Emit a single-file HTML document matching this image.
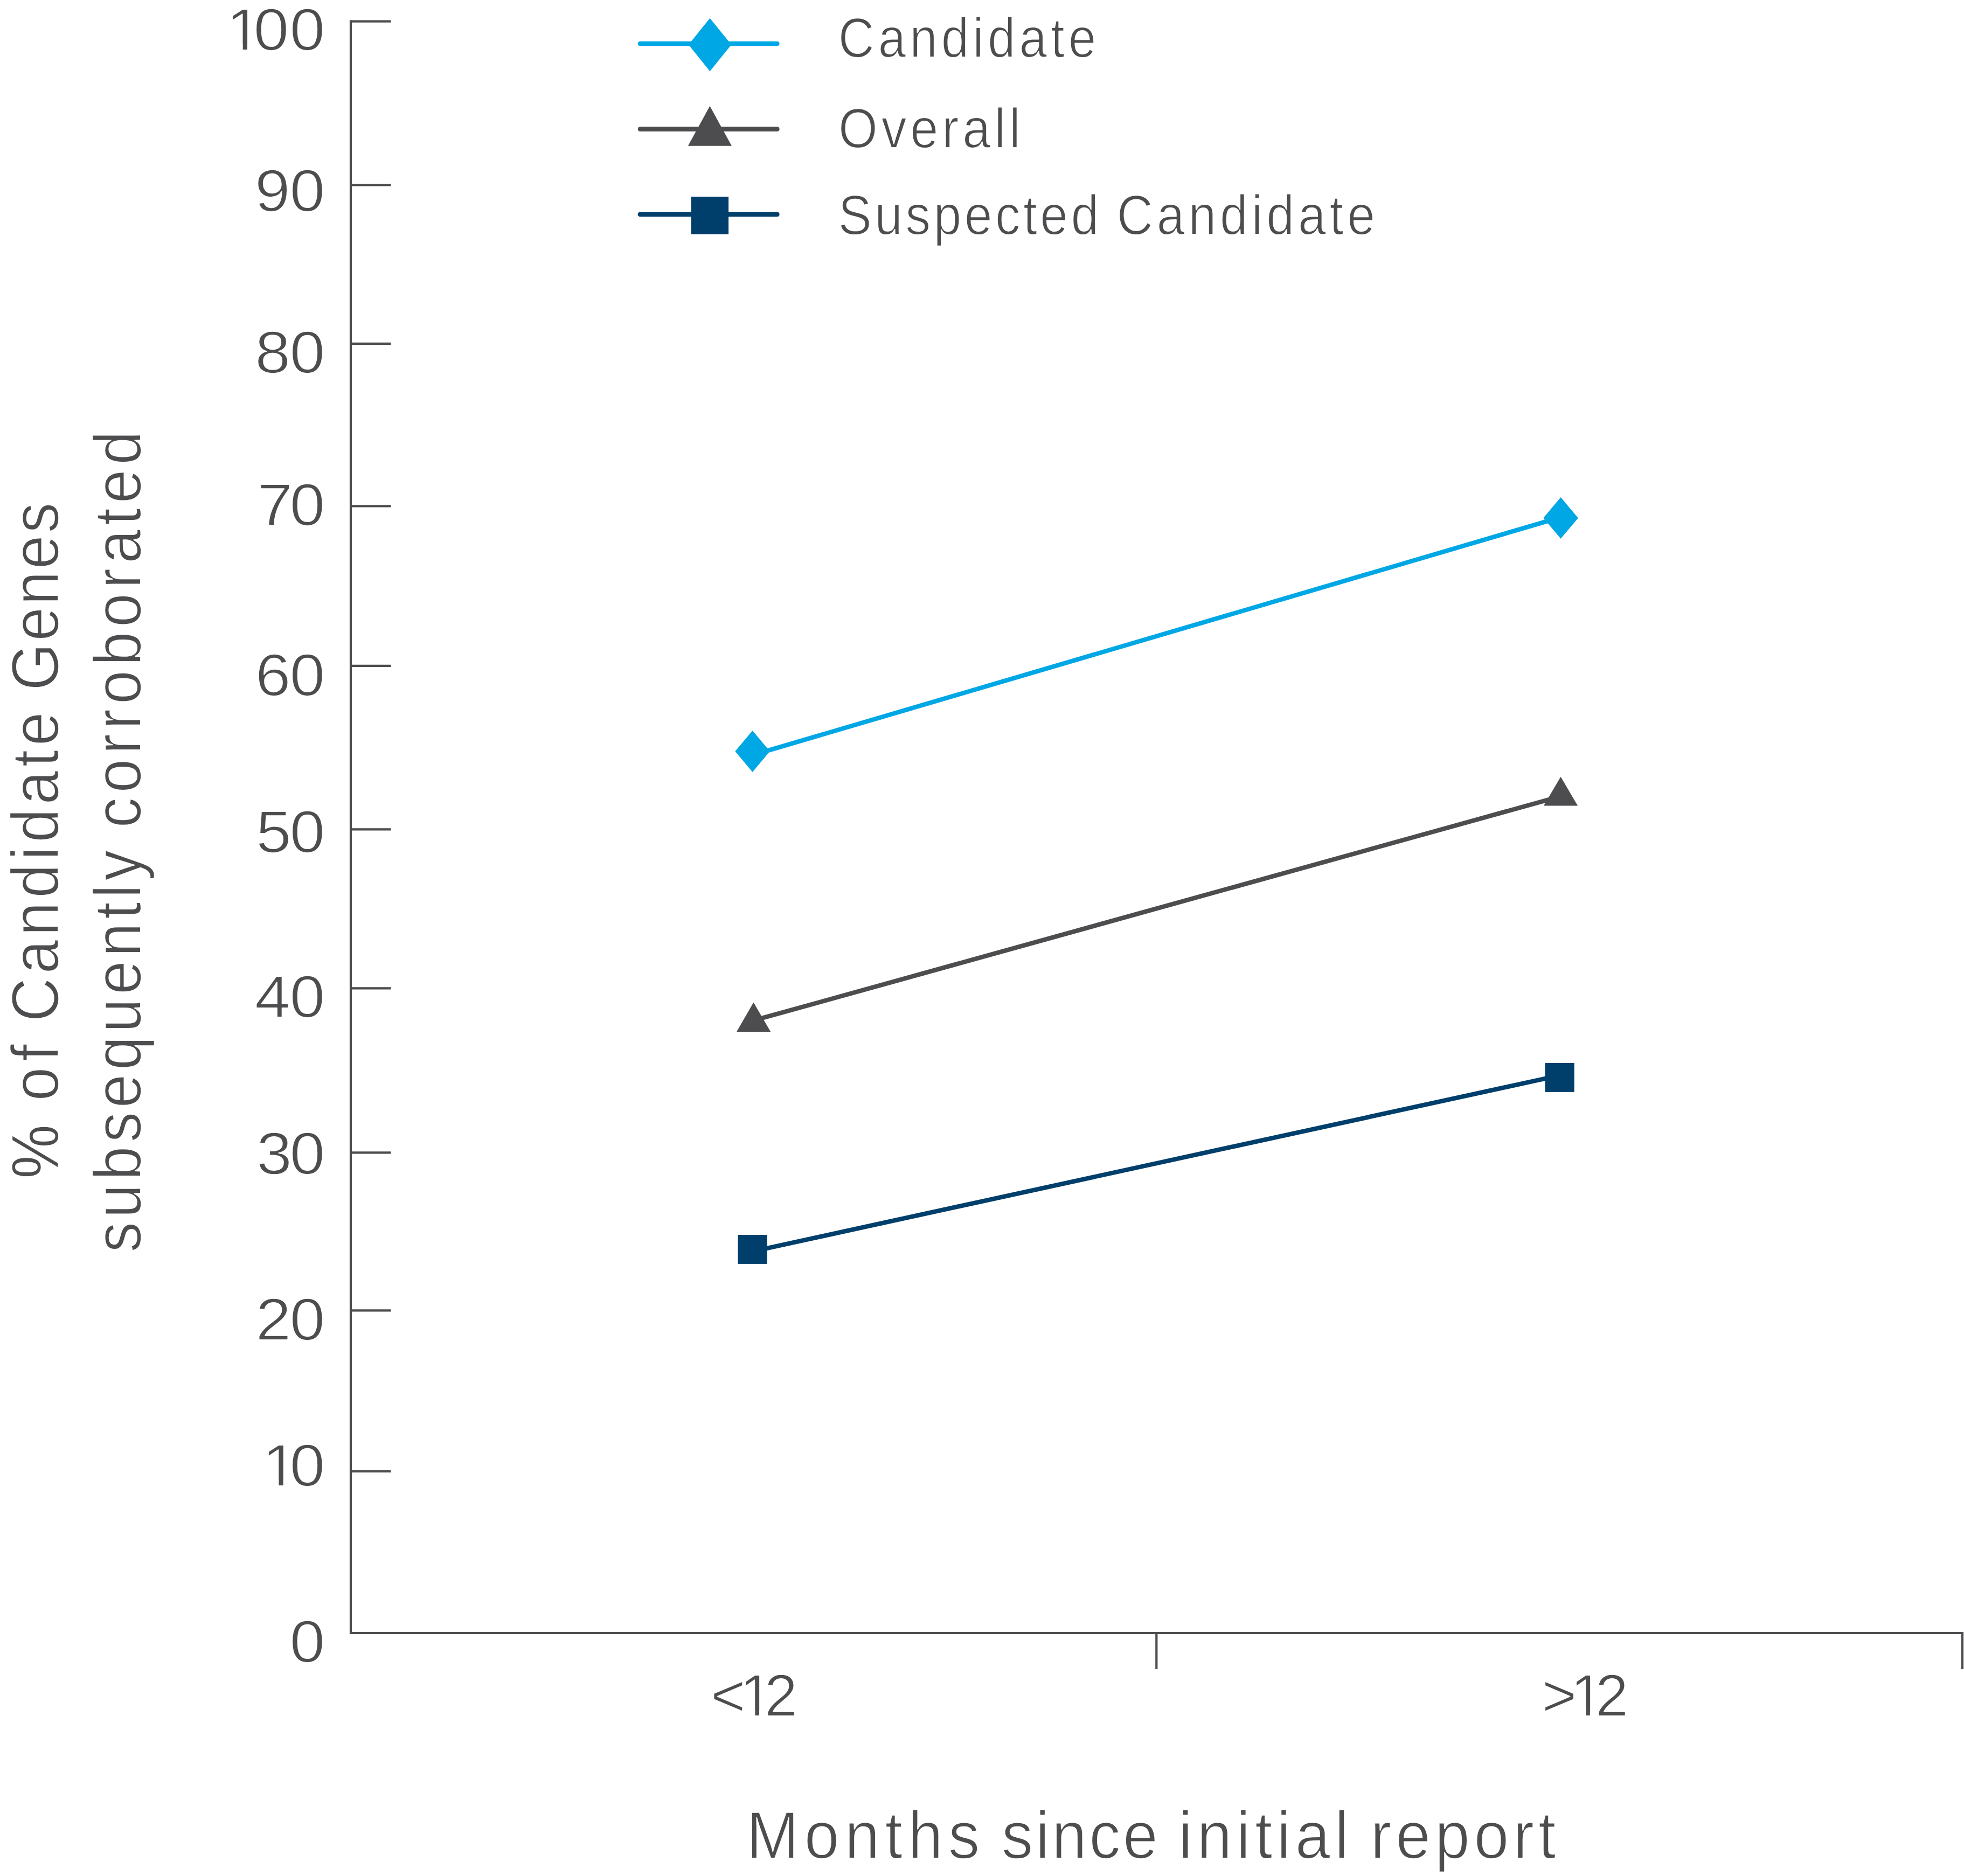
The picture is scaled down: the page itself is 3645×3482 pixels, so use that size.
<!DOCTYPE html>
<html lang="en">
<head>
<meta charset="utf-8">
<title>Candidate genes subsequently corroborated</title>
<style>
  html, body { margin: 0; padding: 0; background: #ffffff; }
  body { width: 3645px; height: 3482px; overflow: hidden; }
  svg { display: block; }
  text { font-family: "Liberation Sans", sans-serif; fill: #4d4d4f; stroke: #ffffff; stroke-linejoin: round;
         font-kerning: none; text-rendering: geometricPrecision; }
  .dig   { font-size: 110.5px; stroke-width: 1.80; }
  .leg   { font-size: 104px; stroke-width: 1.80; }
  .title { font-size: 124px; stroke-width: 1.90; }
  .ax    { stroke: #4d4d4f; stroke-width: 4.2; fill: none; }
</style>
</head>
<body>
<svg width="3645" height="3482" viewBox="0 0 3645 3482">
  <rect x="0" y="0" width="3645" height="3482" fill="#ffffff"/>

  <!-- axes -->
  <g class="ax">
    <path d="M651 37.6 V3031 M648.9 3031 H3644.1"/>
    <path d="M651 39.7 H725.5 M651 343.5 H725.5 M651 637.8 H725.5 M651 939.4 H725.5 M651 1235.9 H725.5 M651 1539.4 H725.5 M651 1834.3 H725.5 M651 2139.4 H725.5 M651 2432.4 H725.5 M651 2730.9 H725.5"/>
    <path d="M2146.3 3031 V3098 M3642 3031 V3098"/>
  </g>
  <!-- y tick labels -->
  <g>
    <text class="dig" transform="translate(0 93.2) scale(1.072 1)" x="391.6 438.9 501.4" y="0">100</text>
    <text class="dig" transform="translate(0 391.5) scale(1.072 1)" x="440.9 501.4" y="0">90</text>
    <text class="dig" transform="translate(0 691.5) scale(1.072 1)" x="441.5 501.4" y="0">80</text>
    <text class="dig" transform="translate(0 974.6) scale(1.072 1)" x="445.2 501.4" y="0">70</text>
    <text class="dig" transform="translate(0 1290.5) scale(1.072 1)" x="442.0 501.4" y="0">60</text>
    <text class="dig" transform="translate(0 1582.0) scale(1.072 1)" x="443.2 501.4" y="0">50</text>
    <text class="dig" transform="translate(0 1888.3) scale(1.072 1)" x="441.0 501.4" y="0">40</text>
    <text class="dig" transform="translate(0 2178.5) scale(1.072 1)" x="444.0 501.4" y="0">30</text>
    <text class="dig" transform="translate(0 2486.7) scale(1.072 1)" x="442.7 501.4" y="0">20</text>
    <text class="dig" transform="translate(0 2757.5) scale(1.072 1)" x="453.8 501.4" y="0">10</text>
    <text class="dig" transform="translate(0 3085.2) scale(1.072 1)" x="501.4" y="0">0</text>
  </g>
  <!-- x tick labels -->
  <g>
    <text class="dig" transform="translate(0 3185.2) scale(1.000 1)" x="1318.9 1372.5 1418.7" y="0">&lt;12</text>
    <text class="dig" transform="translate(0 3185.2) scale(1.000 1)" x="2861.7 2914.4 2960.8" y="0">&gt;12</text>
  </g>
  <!-- hide foot serif of the "1" glyphs -->
  <g fill="#ffffff">
    <rect x="427.8" y="83.4" width="22.9" height="11.8"/>
    <rect x="459.0" y="83.4" width="22.0" height="11.8"/>
    <rect x="494.5" y="2747.7" width="22.9" height="11.8"/>
    <rect x="525.6" y="2747.7" width="22.0" height="11.8"/>
    <rect x="1380.0" y="3175.4" width="21.4" height="11.8"/>
    <rect x="1409.0" y="3175.4" width="16.2" height="11.8"/>
    <rect x="2921.9" y="3175.4" width="21.4" height="11.8"/>
    <rect x="2950.9" y="3175.4" width="16.5" height="11.8"/>
  </g>
  <!-- x axis title -->
  <g>
    <text class="title" transform="translate(0 3448.6) scale(0.940 1)"><tspan x="1473.9" style="letter-spacing:10.77px">Months</tspan> <tspan x="1977.6" style="letter-spacing:4.76px">since</tspan> <tspan x="2326.8" style="letter-spacing:8.89px">initial</tspan> <tspan x="2705.9" style="letter-spacing:8.36px">report</tspan></text>
  </g>
  <!-- y axis title -->
  <g>
    <text class="title" transform="translate(107.9 0) rotate(-90) scale(0.910 1)"><tspan x="-2404.1" style="stroke-width:1px">%</tspan> <tspan x="-2245.7" style="letter-spacing:12.52px">of</tspan> <tspan x="-2084.0" style="letter-spacing:8.31px">Candidate</tspan> <tspan x="-1408.5" style="letter-spacing:4.51px">Genes</tspan></text>
    <text class="title" transform="translate(261.4 0) rotate(-90) scale(0.910 1)"><tspan x="-2554.4" style="letter-spacing:8.14px">subsequently</tspan> <tspan x="-1688.6" style="letter-spacing:9.68px">corroborated</tspan></text>
  </g>
  <!-- legend -->
  <g stroke-width="8.6" stroke-linecap="round">
    <path d="M1188 81 H1442.4" stroke="#00a7e5"/>
    <path d="M1188 239.6 H1442.4" stroke="#4d4d4f"/>
    <path d="M1188 397.9 H1442.4" stroke="#003f6b"/>
  </g>
  <path d="M1317.5 33.8 L1357.4 83 L1317.5 132.2 L1277.9 83 Z" fill="#00a7e5"/>
  <path d="M1317.4 196.7 L1357.9 270.8 L1276.9 270.8 Z" fill="#4d4d4f"/>
  <rect x="1282.7" y="365.1" width="69.4" height="69.6" fill="#003f6b"/>
  <g>
    <text class="leg" transform="translate(0 106.2) scale(0.890 1)"><tspan x="1748.0" style="letter-spacing:7.94px">Candidate</tspan></text>
    <text class="leg" transform="translate(0 273.6) scale(0.900 1)"><tspan x="1728.8" style="letter-spacing:7.67px">Overall</tspan></text>
    <text class="leg" transform="translate(0 435.2) scale(0.895 1)"><tspan x="1738.2" style="letter-spacing:6.11px">Suspected</tspan> <tspan x="2315.9" style="letter-spacing:7.68px">Candidate</tspan></text>
  </g>
  <!-- data series -->
  <g stroke-width="8.3" fill="none">
    <path d="M1396.6 1401.5 L2896.6 960" stroke="#00a7e5"/>
    <path d="M1398.6 1894.1 L2896.5 1478" stroke="#4d4d4f"/>
    <path d="M1396.6 2322.7 L2894.6 1996" stroke="#003f6b"/>
  </g>
  <path d="M1396.6 1356.1 L1428.8 1394.6 L1396.6 1433.1 L1364.4 1394.6 Z" fill="#00a7e5"/>
  <path d="M2896.6 923 L2928.9 961.4 L2896.6 999.7 L2864.2 961.4 Z" fill="#00a7e5"/>
  <path d="M1398.5 1860.4 L1430.2 1914.9 L1367.1 1914.9 Z" fill="#4d4d4f"/>
  <path d="M2896.5 1441.8 L2928.1 1495.5 L2865 1495.5 Z" fill="#4d4d4f"/>
  <rect x="1369.5" y="2292" width="54.2" height="53.9" fill="#003f6b"/>
  <rect x="2867.5" y="1973" width="54.2" height="53.9" fill="#003f6b"/>
</svg>
</body>
</html>
